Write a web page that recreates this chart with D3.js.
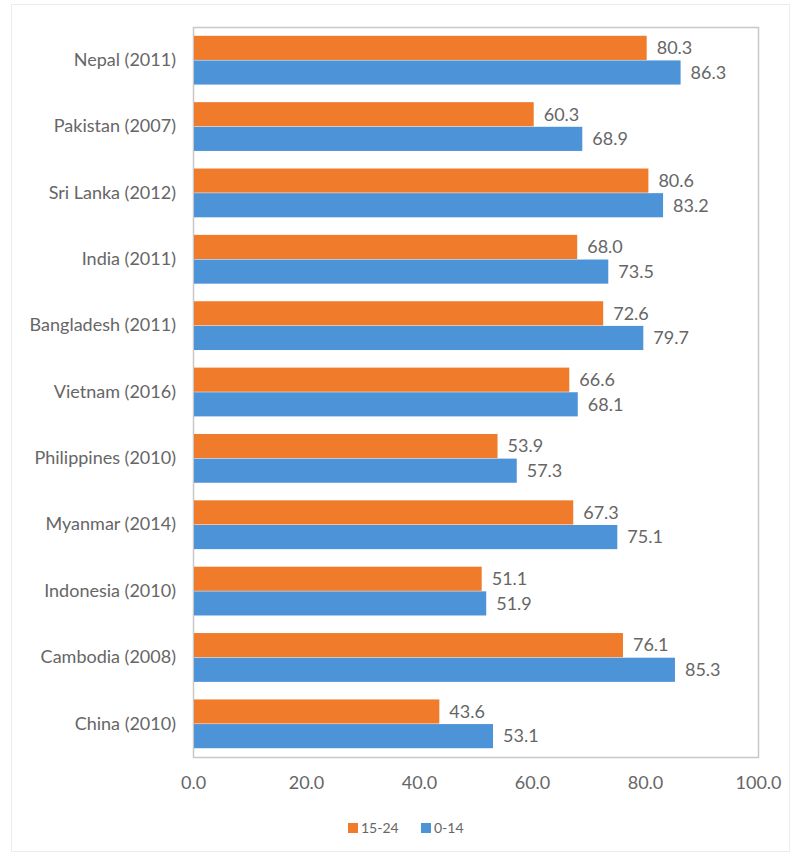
<!DOCTYPE html>
<html>
<head>
<meta charset="utf-8">
<script src="https://cdn.jsdelivr.net/npm/d3@7"></script>
<style>
  html, body { margin: 0; padding: 0; background: #fff; }
  svg { display: block; }
  text { font-family: Lato, "Open Sans", "Liberation Sans", sans-serif; }
</style>
</head>
<body>
<svg id="chart" width="794" height="856"></svg>
<script>
const categories = ["Nepal (2011)", "Pakistan (2007)", "Sri Lanka (2012)", "India (2011)", "Bangladesh (2011)", "Vietnam (2016)", "Philippines (2010)", "Myanmar (2014)", "Indonesia (2010)", "Cambodia (2008)", "China (2010)"];
const series15_24 = [80.3, 60.3, 80.6, 68.0, 72.6, 66.6, 53.9, 67.3, 51.1, 76.1, 43.6];
const series0_14 = [86.3, 68.9, 83.2, 73.5, 79.7, 68.1, 57.3, 75.1, 51.9, 85.3, 53.1];
const seriesNames = ["15-24", "0-14"];
const seriesColors = ["#F07B2A", "#4C93D8"];
const xTicks = [0, 20, 40, 60, 80, 100];

const FONT = 'Lato, "Open Sans", "Liberation Sans", sans-serif';
const TEXT_COLOR = "#666666";
const svg = d3.select("#chart");

// faint outer chart border
svg.append("rect").attr("x", 11.5).attr("y", 4.5).attr("width", 778).attr("height", 847)
  .attr("fill", "none").attr("stroke", "#ececec").attr("stroke-width", 1);

const plot = { left: 193, right: 758, top: 27, bottom: 757 };

const x = d3.scaleLinear().domain([0, 100]).range([plot.left, plot.right]);
const y = d3.scaleBand().domain(categories).range([plot.top, plot.bottom]).paddingInner(0.25).paddingOuter(0.125);
const sub = d3.scaleBand().domain(seriesNames).range([0, y.bandwidth()]).padding(0.02);

// plot area border
svg.append("rect").attr("x", plot.left + 0.5).attr("y", plot.top + 0.5)
  .attr("width", plot.right - plot.left).attr("height", plot.bottom - plot.top)
  .attr("fill", "none").attr("stroke", "#c8c8c8").attr("stroke-width", 1.5);

const data = categories.map((c, i) => ({ cat: c, vals: [series15_24[i], series0_14[i]] }));

const groups = svg.append("g").selectAll("g").data(data).join("g")
  .attr("transform", d => `translate(0,${y(d.cat)})`);

groups.selectAll("rect").data(d => d.vals.map((v, j) => ({ v, name: seriesNames[j], j })))
  .join("rect")
  .attr("x", x(0) + 1)
  .attr("y", d => sub(d.name))
  .attr("width", d => x(d.v) - x(0) - 1)
  .attr("height", sub.bandwidth())
  .attr("fill", d => seriesColors[d.j]);

groups.selectAll("text.val").data(d => d.vals.map((v, j) => ({ v, name: seriesNames[j], j })))
  .join("text")
  .attr("class", "val")
  .attr("x", d => x(d.v) + 10)
  .attr("y", d => sub(d.name) + sub.bandwidth() / 2)
  .attr("dy", "0.35em")
  .attr("font-size", 18)
  .attr("fill", TEXT_COLOR)
  .text(d => d.v.toFixed(1));

// category axis labels
const yAxis = d3.axisLeft(y).tickSize(0).tickPadding(17);
const yg = svg.append("g").attr("transform", `translate(${plot.left},0)`).call(yAxis);
yg.select(".domain").remove();
yg.selectAll("text").attr("font-size", 18).attr("fill", TEXT_COLOR).style("font-family", FONT);

// x axis labels
const xAxis = d3.axisBottom(x).tickValues(xTicks).tickSize(0).tickPadding(19).tickFormat(d => d.toFixed(1));
const xg = svg.append("g").attr("transform", `translate(0,${plot.bottom})`).call(xAxis);
xg.select(".domain").remove();
xg.selectAll("text").attr("font-size", 18).attr("fill", TEXT_COLOR).style("font-family", FONT);

// legend
const legend = svg.append("g").attr("transform", "translate(348,828)");
const legendItems = [{ name: seriesNames[0], color: seriesColors[0], dx: 0 }, { name: seriesNames[1], color: seriesColors[1], dx: 73 }];
const li = legend.selectAll("g").data(legendItems).join("g").attr("transform", d => `translate(${d.dx},0)`);
li.append("rect").attr("x", 0).attr("y", -5).attr("width", 10).attr("height", 10).attr("fill", d => d.color);
li.append("text").attr("x", 13).attr("y", 0).attr("dy", "0.35em").attr("font-size", 14).attr("fill", TEXT_COLOR).text(d => d.name);
</script>
</body>
</html>
